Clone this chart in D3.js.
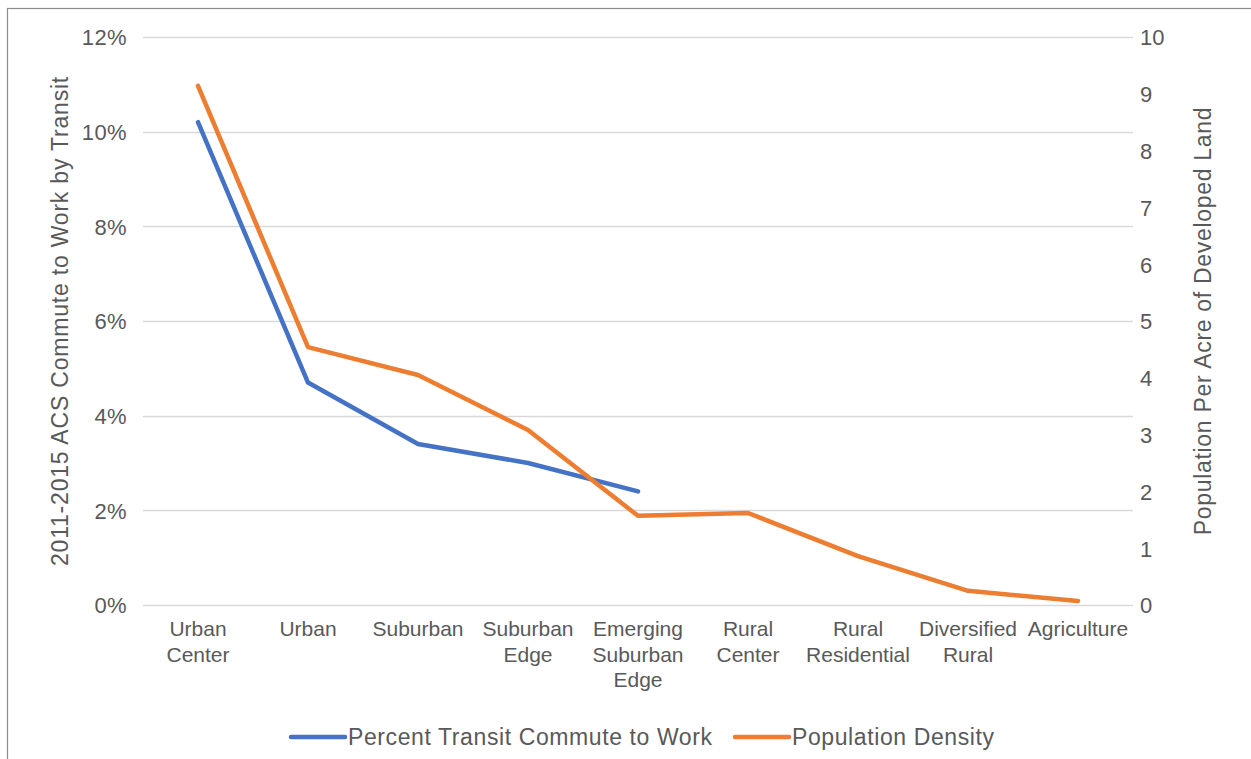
<!DOCTYPE html>
<html>
<head>
<meta charset="utf-8">
<script src="https://cdn.jsdelivr.net/npm/d3@7"></script>
<style>
  html, body { margin: 0; padding: 0; background: #fff; }
  svg { display: block; font-family: "Liberation Sans", Arial, sans-serif; }
</style>
</head>
<body>
<script>
const categories = ["Urban Center", "Urban", "Suburban", "Suburban Edge", "Emerging Suburban Edge",
    "Rural Center", "Rural Residential", "Diversified Rural", "Agriculture"];
// transit share only reported for the first five
const transitShare = [0.102, 0.047, 0.034, 0.030, 0.024];
const popDensity = [9.14, 4.54, 4.05, 3.08, 1.57, 1.62, 0.86, 0.25, 0.07];
const leftTicks = [0, 0.02, 0.04, 0.06, 0.08, 0.10, 0.12];
const rightTicks = [0, 1, 2, 3, 4, 5, 6, 7, 8, 9, 10];
const seriesNames = ["Percent Transit Commute to Work", "Population Density"];
const colors = ["#4472C4", "#ED7D31"];

const W = 1251, H = 759;
const plot = { left: 143, right: 1133, top: 37, bottom: 605 };
const textColor = "#595959";

const svg = d3.select("body").append("svg")
    .attr("width", W)
    .attr("height", H);

// outer frame (runs off right / bottom like the original)
svg.append("rect")
    .attr("x", 7.5).attr("y", 8.5)
    .attr("width", W + 10).attr("height", H + 10)
    .attr("fill", "none")
    .attr("stroke", "#8c8c8c")
    .attr("stroke-width", 1.2);

const x = d3.scaleBand()
    .domain(categories)
    .range([plot.left, plot.right]);

const yLeft = d3.scaleLinear().domain([0, 0.12]).range([plot.bottom, plot.top]);
const yRight = d3.scaleLinear().domain([0, 10]).range([plot.bottom, plot.top]);

// gridlines
svg.append("g")
    .selectAll("line")
    .data(leftTicks)
    .join("line")
    .attr("x1", plot.left).attr("x2", plot.right)
    .attr("y1", d => Math.round(yLeft(d)) + 0.5)
    .attr("y2", d => Math.round(yLeft(d)) + 0.5)
    .attr("stroke", "#d9d9d9")
    .attr("stroke-width", 1.5);

// left axis
const leftAxis = svg.append("g")
    .attr("transform", `translate(${plot.left - 16},0)`)
    .call(d3.axisLeft(yLeft).tickValues(leftTicks).tickFormat(d3.format(".0%")).tickSize(0).tickPadding(0));
leftAxis.select(".domain").remove();
leftAxis.selectAll("text")
    .attr("fill", textColor)
    .style("font-size", "22px")
    .style("letter-spacing", "0.4px")
    .attr("dy", "0.36em");

// right axis
const rightAxis = svg.append("g")
    .attr("transform", `translate(${plot.right + 7},0)`)
    .call(d3.axisRight(yRight).tickValues(rightTicks).tickSize(0).tickPadding(0));
rightAxis.select(".domain").remove();
rightAxis.selectAll("text")
    .attr("fill", textColor)
    .style("font-size", "22px")
    .attr("dy", "0.36em");

// category labels, wrapped to band width
const catAxis = svg.append("g")
    .attr("transform", `translate(0,${plot.bottom})`)
    .call(d3.axisBottom(x).tickSize(0).tickPadding(0));
catAxis.select(".domain").remove();
catAxis.selectAll("text")
    .attr("fill", textColor)
    .style("font-size", "21px")
    .each(function (d) {
        const t = d3.select(this);
        const words = d.split(" ");
        const maxW = x.bandwidth() - 4;
        const lines = [];
        let cur = [];
        t.text(null);
        const probe = t.append("tspan");
        words.forEach(w => {
            const test = cur.concat(w).join(" ");
            probe.text(test);
            if (cur.length && probe.node().getComputedTextLength() > maxW) {
                lines.push(cur.join(" "));
                cur = [w];
            } else {
                cur.push(w);
            }
        });
        lines.push(cur.join(" "));
        probe.remove();
        lines.forEach((l, i) => {
            t.append("tspan")
                .attr("x", 0)
                .attr("y", 31 + i * 25.5)
                .text(l);
        });
    })
    .attr("dy", null);

// lines
const line = (yScale) => d3.line()
    .x((d, i) => x(categories[i]) + x.bandwidth() / 2)
    .y(d => yScale(d));

svg.append("path")
    .datum(transitShare)
    .attr("d", line(yLeft))
    .attr("fill", "none")
    .attr("stroke", colors[0])
    .attr("stroke-width", 4.5)
    .attr("stroke-linecap", "round")
    .attr("stroke-linejoin", "round");

svg.append("path")
    .datum(popDensity)
    .attr("d", line(yRight))
    .attr("fill", "none")
    .attr("stroke", colors[1])
    .attr("stroke-width", 4.5)
    .attr("stroke-linecap", "round")
    .attr("stroke-linejoin", "round");

// axis titles
svg.append("text")
    .attr("transform", `translate(68,${(plot.top + plot.bottom) / 2}) rotate(-90)`)
    .attr("text-anchor", "middle")
    .attr("fill", textColor)
    .style("font-size", "23px")
    .style("letter-spacing", "0.8px")
    .text("2011-2015 ACS Commute to Work by Transit");

svg.append("text")
    .attr("transform", `translate(1211,${(plot.top + plot.bottom) / 2}) rotate(-90)`)
    .attr("text-anchor", "middle")
    .attr("fill", textColor)
    .style("font-size", "23px")
    .style("letter-spacing", "0.7px")
    .text("Population Per Acre of Developed Land");

// legend
const legendY = 737;
const legend = svg.append("g");
const legendItems = [
    { name: seriesNames[0], color: colors[0], x: 291 },
    { name: seriesNames[1], color: colors[1], x: 735 }
];
legendItems.forEach(it => {
    legend.append("line")
        .attr("x1", it.x).attr("x2", it.x + 54)
        .attr("y1", legendY).attr("y2", legendY)
        .attr("stroke", it.color)
        .attr("stroke-width", 4.5)
        .attr("stroke-linecap", "round");
    legend.append("text")
        .attr("x", it.x + 57)
        .attr("y", legendY)
        .attr("dy", "0.36em")
        .attr("fill", textColor)
        .style("font-size", "23px")
        .style("letter-spacing", "0.6px")
        .text(it.name);
});
</script>
</body>
</html>
